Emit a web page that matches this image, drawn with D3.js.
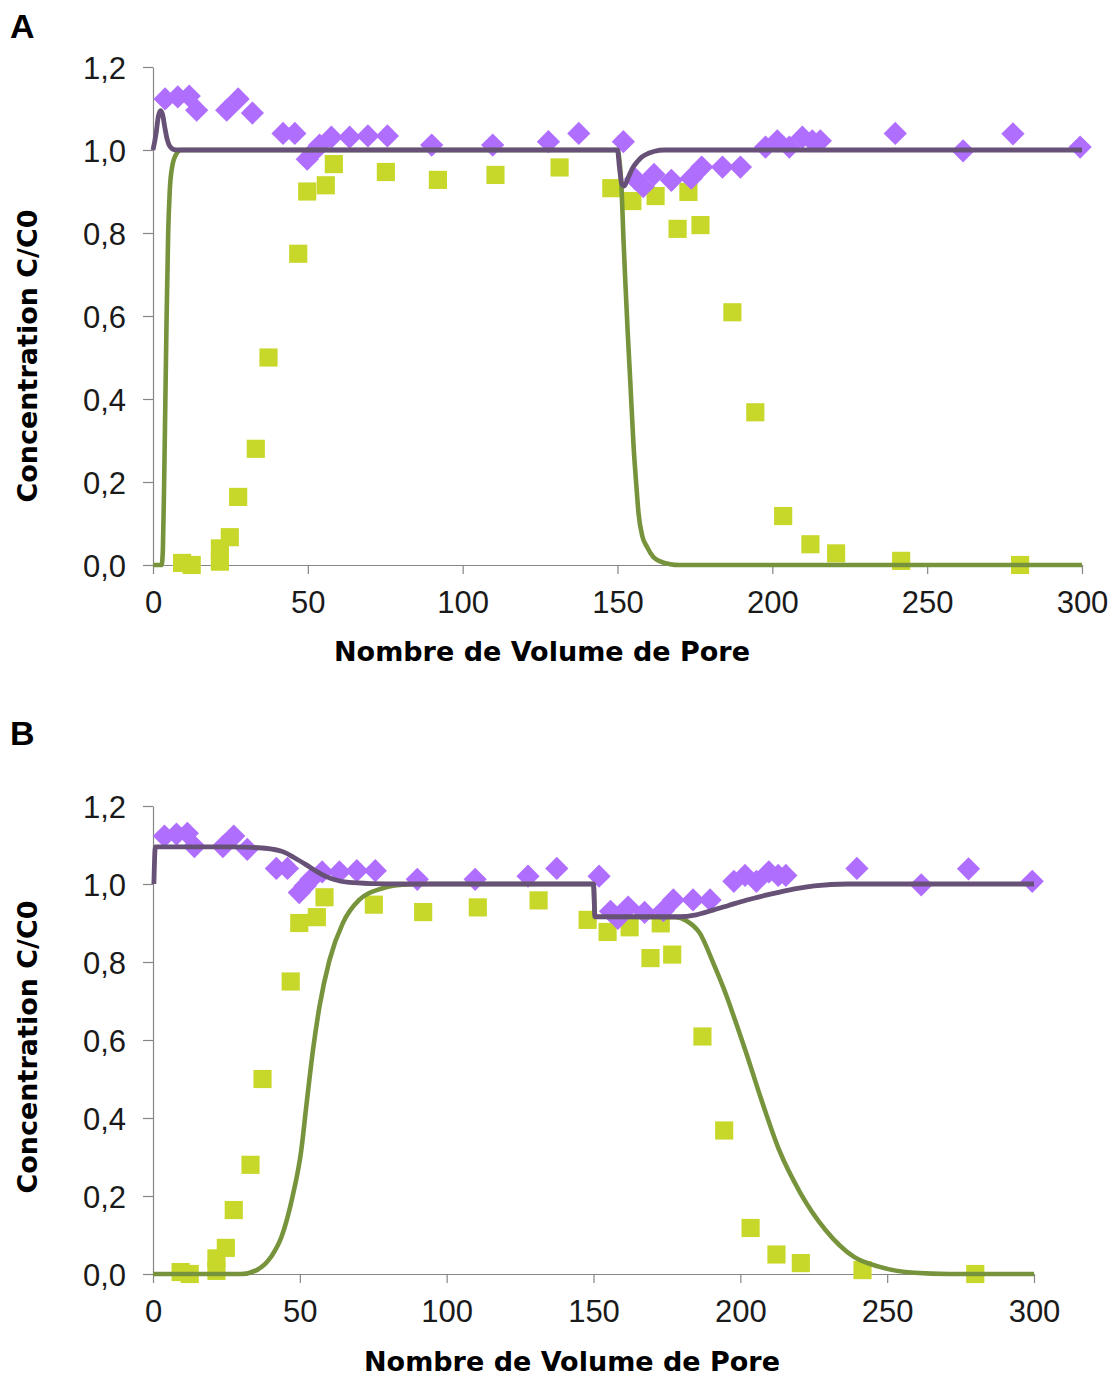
<!DOCTYPE html>
<html>
<head>
<meta charset="utf-8">
<script src="https://cdn.jsdelivr.net/npm/d3@7"></script>
<style>
  body { margin: 0; background: #fff; }
  .tick text { font-family: "Liberation Sans", Arial, sans-serif; font-size: 31px; fill: #1a1a1a; }
  .ttl { font-family: "DejaVu Sans", Verdana, sans-serif; font-weight: bold; font-size: 27px; fill: #000; }
  .panel-lbl { font-family: "Liberation Sans", Arial, sans-serif; font-weight: bold; font-size: 34px; fill: #000; }
</style>
</head>
<body>
<div id="vis"></div>
<script>
// tick values
const xTicks = [0, 50, 100, 150, 200, 250, 300];
const yTicks = [0, 0.2, 0.4, 0.6, 0.8, 1.0, 1.2];

// measured points (same in both panels)
const squarePts = [
  [9.4, 0.005], [12.5, 0.0], [21.6, 0.04], [21.6, 0.008], [24.8, 0.067], [27.5, 0.164],
  [33.2, 0.28], [37.3, 0.5], [46.9, 0.75], [49.8, 0.90], [55.8, 0.915], [58.4, 0.966],
  [75.2, 0.947], [92, 0.928], [110.6, 0.94], [131.3, 0.958], [148, 0.908], [154.8, 0.877],
  [162.3, 0.889], [169.4, 0.81], [172.9, 0.899], [176.8, 0.819], [187.1, 0.609], [194.5, 0.368],
  [203.5, 0.118], [212.3, 0.05], [220.6, 0.028], [241.6, 0.01], [280, 0.0]
];
const diamondPts = [
  [3.9, 1.123], [8.0, 1.128], [11.7, 1.13], [14.1, 1.096], [23.8, 1.096], [27.5, 1.123],
  [32.1, 1.089], [42, 1.04], [45.8, 1.04], [49.8, 0.978], [51.8, 0.995], [53.8, 1.012],
  [57.6, 1.031], [63.5, 1.031], [69.4, 1.034], [75.7, 1.034], [90, 1.012], [109.7, 1.012],
  [127.7, 1.02], [137.5, 1.04], [151.9, 1.02], [155.8, 0.93], [158.3, 0.912], [161.8, 0.941],
  [167.4, 0.927], [173.8, 0.932], [177.2, 0.959], [183.9, 0.959], [189.7, 0.959], [197.8, 1.007],
  [201.6, 1.022], [205.5, 1.007], [209.7, 1.031], [212.9, 1.022], [215.5, 1.022], [239.7, 1.04],
  [261.6, 0.998], [277.7, 1.039], [299.4, 1.007]
];

// model curves, panel A
const fitPurpleA = [
  [0, 1.0], [1, 1.04], [1.7, 1.08], [2.4, 1.095], [3.1, 1.085], [3.8, 1.055], [4.6, 1.025],
  [5.5, 1.008], [6.8, 1.001], [8, 1.0], [150, 1.0], [150.6, 0.96], [151.4, 0.918], [152.2, 0.913],
  [153, 0.925], [154, 0.943], [155, 0.958], [156.5, 0.973], [158, 0.984], [160, 0.992],
  [162, 0.997], [165, 1.0], [300, 1.0]
];
const fitGreenA = [
  [0, 0], [2.8, 0], [3.2, 0.04], [3.6, 0.2], [4, 0.4], [4.4, 0.6], [4.9, 0.8], [5.4, 0.9],
  [6.2, 0.96], [7.5, 0.99], [9, 1.0], [150, 1.0], [150.7, 0.97], [151.3, 0.91], [151.9, 0.79],
  [152.5, 0.687], [153.3, 0.56], [154.1, 0.446], [155.2, 0.285], [156.1, 0.19], [156.8, 0.124],
  [158, 0.07], [159.5, 0.044], [161.5, 0.02], [164, 0.008], [167, 0.002], [170, 0], [300, 0]
];

// model curves, panel B
const fitPurpleB = [
  [0.3, 1.0], [0.8, 1.095], [27, 1.095], [36, 1.093], [40, 1.09], [44.2, 1.083], [48, 1.068],
  [52.2, 1.049], [55.5, 1.033], [59, 1.019], [62, 1.011], [66.8, 1.004], [75, 1.001], [84, 1.0],
  [150, 1.0], [150.5, 0.916], [179, 0.916], [185, 0.921], [190.7, 0.933], [196, 0.945],
  [202.2, 0.959], [208, 0.97], [213.8, 0.98], [219, 0.988], [225.2, 0.995], [236.5, 1.0], [300, 1.0]
];
const fitGreenB = [
  [0, 0], [30, 0], [35.3, 0.01], [40.2, 0.044], [43.8, 0.096], [47.5, 0.198], [50.5, 0.318],
  [52.2, 0.43], [54.4, 0.57], [56.7, 0.686], [60.1, 0.805], [64.6, 0.899], [70.2, 0.959],
  [78.2, 0.989], [85, 0.998], [92, 1.0], [150, 1.0], [150.5, 0.916], [178, 0.915], [181.6, 0.906],
  [186.2, 0.874], [190.8, 0.797], [195.4, 0.711], [198.2, 0.651], [201.7, 0.574], [207.2, 0.446],
  [213.2, 0.318], [220.5, 0.207], [229, 0.113], [238.7, 0.044], [247.2, 0.019], [259.3, 0.003],
  [271, 0], [300, 0]
];

const svg = d3.select("#vis")
  .append("svg")
  .attr("width", 1112)
  .attr("height", 1379);

function drawPanel(p) {
  const x = d3.scaleLinear().domain([0, 300]).range([p.left, p.right]);
  const y = d3.scaleLinear().domain([0, 1.2]).range([p.bottom, p.top]);
  const fmt = d => d3.format(".1f")(d).replace(".", ",");
  const g = svg.append("g");

  // AXES
  const ax = g.append("g")
    .attr("transform", `translate(0,${p.bottom})`)
    .call(d3.axisBottom(x).tickValues(xTicks).tickSize(9).tickSizeOuter(0).tickPadding(17));
  ax.selectAll("text").attr("dy", "0.71em");

  const ay = g.append("g")
    .attr("transform", `translate(${p.left},0)`)
    .call(d3.axisLeft(y).tickValues(yTicks).tickFormat(fmt).tickSize(10).tickSizeOuter(0).tickPadding(17));
  ay.selectAll("text").attr("dy", "0.37em");

  g.selectAll(".domain, .tick line").attr("stroke", "#868686").attr("stroke-width", 1.2);

  // MARKERS
  g.append("g").selectAll("path")
    .data(squarePts)
    .enter()
    .append("path")
    .attr("d", d3.symbol(d3.symbolSquare, 330))
    .attr("transform", d => `translate(${x(d[0])},${y(d[1])})`)
    .attr("fill", "#c8d82a");

  g.append("g").selectAll("path")
    .data(diamondPts)
    .enter()
    .append("path")
    .attr("d", d3.symbol(d3.symbolSquare, 270))
    .attr("transform", d => `translate(${x(d[0])},${y(d[1])}) rotate(45)`)
    .attr("fill", "#b06eff");

  // MODEL LINES
  const line = d3.line()
    .x(d => x(d[0]))
    .y(d => y(d[1]))
    .curve(d3.curveMonotoneX);

  g.append("path")
    .attr("d", line(p.green))
    .attr("fill", "none")
    .attr("stroke", "#77933c")
    .attr("stroke-width", 4.6);

  g.append("path")
    .attr("d", line(p.purple))
    .attr("fill", "none")
    .attr("stroke", "#675177")
    .attr("stroke-width", 4.8);

  // TITLES
  g.append("text")
    .attr("class", "ttl")
    .attr("x", p.xTitleX)
    .attr("y", p.xTitleY)
    .attr("text-anchor", "middle")
    .text("Nombre de Volume de Pore");

  g.append("text")
    .attr("class", "ttl")
    .attr("transform", `translate(37,${p.yTitleY}) rotate(-90)`)
    .attr("text-anchor", "middle")
    .text("Concentration C/C0");

  g.append("text")
    .attr("class", "panel-lbl")
    .attr("x", 10)
    .attr("y", p.lblY)
    .text(p.label);
}

drawPanel({
  label: "A", lblY: 38,
  left: 153, right: 1082, top: 67, bottom: 565,
  xTitleX: 542, xTitleY: 661, yTitleY: 356,
  green: fitGreenA, purple: fitPurpleA
});

drawPanel({
  label: "B", lblY: 745,
  left: 153, right: 1034, top: 806, bottom: 1274,
  xTitleX: 572, xTitleY: 1371, yTitleY: 1047,
  green: fitGreenB, purple: fitPurpleB
});
</script>
</body>
</html>
